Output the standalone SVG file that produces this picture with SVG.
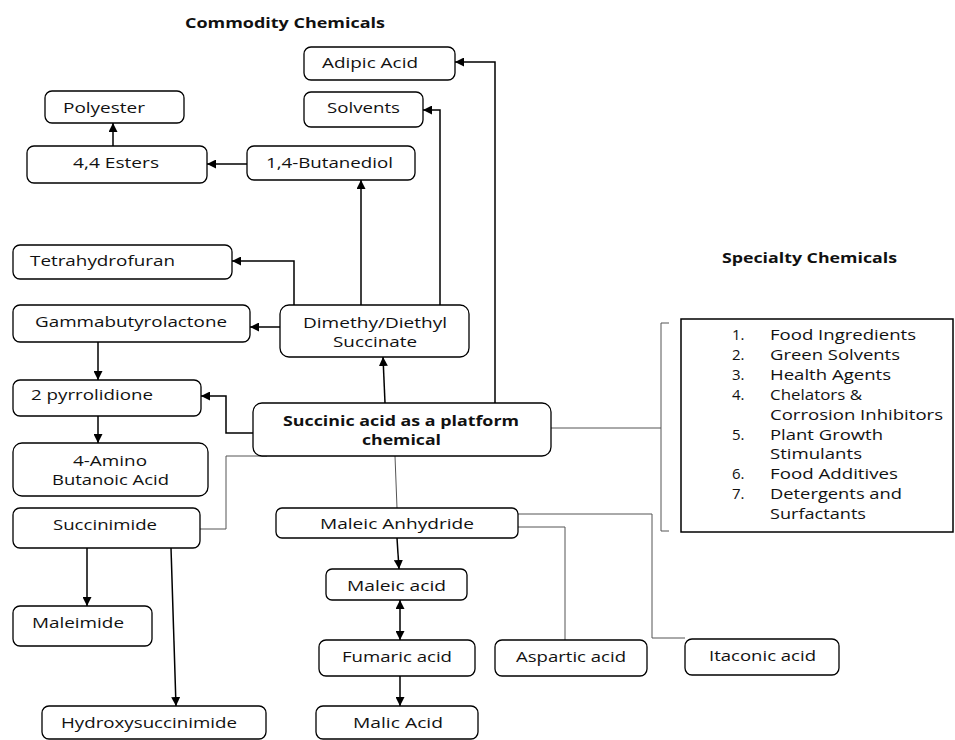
<svg xmlns="http://www.w3.org/2000/svg" width="955" height="740" viewBox="0 0 955 740">
<style>
.box{fill:#fff;stroke:#000;stroke-width:1.3}
.sq{fill:#fff;stroke:#000;stroke-width:1.5}
.t{font-family:"Open Sans","Liberation Sans",sans-serif;font-size:15px;fill:#111}
.b{font-weight:bold;font-size:14.5px}
.arr{stroke:#000;stroke-width:1.5;fill:none;marker-end:url(#ah)}
.dbl{stroke:#000;stroke-width:1.5;fill:none;marker-end:url(#ah);marker-start:url(#ah)}
.thin{stroke:#555;stroke-width:1;fill:none}
</style>
<defs>
<marker id="ah" markerUnits="userSpaceOnUse" markerWidth="9" markerHeight="9" refX="9" refY="4.5" orient="auto-start-reverse">
<path d="M0,0 L9,4.5 L0,9 z" fill="#000"/>
</marker>
</defs>
<rect width="955" height="740" fill="#fff"/>
<text class="t b" x="185" y="28" textLength="200" lengthAdjust="spacingAndGlyphs">Commodity Chemicals</text>
<text class="t b" x="722" y="263" textLength="175" lengthAdjust="spacingAndGlyphs">Specialty Chemicals</text>
<g id="connectors">
<path class="arr" d="M247,164 H207"/>
<path class="arr" d="M113,146 V123"/>
<path class="arr" d="M361,305 V180"/>
<path class="arr" d="M294,305 V261 H232"/>
<path class="arr" d="M280,327 H250"/>
<path class="arr" d="M440,305 V110 H423"/>
<path class="arr" d="M495,403 V62 H455"/>
<path class="arr" d="M385,403 L383,357"/>
<path class="arr" d="M98,342 V380"/>
<path class="arr" d="M253,433 H226 V396 H201"/>
<path class="arr" d="M98,416 V443"/>
<path class="thin" d="M267,456 H226 V529 H200"/>
<path class="arr" d="M87,548 V606"/>
<path class="arr" d="M171,548 L176,706"/>
<path class="thin" d="M395,456 L397,508"/>
<path class="arr" d="M397,538 L399,569"/>
<path class="dbl" d="M400,600 V640"/>
<path class="arr" d="M400,676 V706"/>
<path class="thin" d="M518,514 H652 V638 H685"/>
<path class="thin" d="M518,527 H565 V640"/>
<path class="thin" d="M551,428 H661"/>
<path class="thin" d="M669,323 H661 V531 H669"/>
</g>
<g id="adipic"><rect class="box" x="304" y="47" width="151" height="33" rx="7"/><text class="t" x="322" y="68" textLength="96" lengthAdjust="spacingAndGlyphs">Adipic Acid</text></g>
<g id="solvents"><rect class="box" x="304" y="92" width="119" height="35" rx="7"/><text class="t" x="327" y="113" textLength="73" lengthAdjust="spacingAndGlyphs">Solvents</text></g>
<g id="polyester"><rect class="box" x="45" y="91" width="139" height="32" rx="7"/><text class="t" x="63" y="113" textLength="82" lengthAdjust="spacingAndGlyphs">Polyester</text></g>
<g id="esters"><rect class="box" x="27" y="146" width="180" height="37" rx="7"/><text class="t" x="73" y="168" textLength="86" lengthAdjust="spacingAndGlyphs">4,4 Esters</text></g>
<g id="butanediol"><rect class="box" x="247" y="146" width="168" height="34" rx="7"/><text class="t" x="266" y="168" textLength="127" lengthAdjust="spacingAndGlyphs">1,4-Butanediol</text></g>
<g id="thf"><rect class="box" x="13" y="245" width="219" height="34" rx="7"/><text class="t" x="30" y="266" textLength="145" lengthAdjust="spacingAndGlyphs">Tetrahydrofuran</text></g>
<g id="gbl"><rect class="box" x="13" y="305" width="237" height="37" rx="7"/><text class="t" x="35" y="327" textLength="192" lengthAdjust="spacingAndGlyphs">Gammabutyrolactone</text></g>
<g id="dmds"><rect class="box" x="280" y="305" width="189" height="52" rx="9"/><text class="t" x="303" y="328" textLength="144" lengthAdjust="spacingAndGlyphs">Dimethy/Diethyl</text><text class="t" x="333" y="347" textLength="84" lengthAdjust="spacingAndGlyphs">Succinate</text></g>
<g id="pyrrolidione"><rect class="box" x="13" y="380" width="188" height="36" rx="7"/><text class="t" x="31" y="400" textLength="122" lengthAdjust="spacingAndGlyphs">2 pyrrolidione</text></g>
<g id="amino"><rect class="box" x="13" y="443" width="195" height="53" rx="9"/><text class="t" x="73" y="466" textLength="74" lengthAdjust="spacingAndGlyphs">4-Amino</text><text class="t" x="52" y="485" textLength="117" lengthAdjust="spacingAndGlyphs">Butanoic Acid</text></g>
<g id="succinic"><rect class="box" x="253" y="403" width="298" height="53" rx="9"/><text class="t b" x="283" y="426" textLength="236" lengthAdjust="spacingAndGlyphs">Succinic acid as a platform</text><text class="t b" x="362" y="445" textLength="79" lengthAdjust="spacingAndGlyphs">chemical</text></g>
<g id="succinimide"><rect class="box" x="13" y="508" width="187" height="40" rx="7"/><text class="t" x="53" y="530" textLength="104" lengthAdjust="spacingAndGlyphs">Succinimide</text></g>
<g id="maleimide"><rect class="box" x="13" y="606" width="139" height="40" rx="7"/><text class="t" x="32" y="628" textLength="92" lengthAdjust="spacingAndGlyphs">Maleimide</text></g>
<g id="hydroxysuccinimide"><rect class="box" x="42" y="706" width="224" height="33" rx="7"/><text class="t" x="61" y="728" textLength="176" lengthAdjust="spacingAndGlyphs">Hydroxysuccinimide</text></g>
<g id="maleicanhydride"><rect class="box" x="276" y="508" width="242" height="30" rx="6"/><text class="t" x="320" y="529" textLength="154" lengthAdjust="spacingAndGlyphs">Maleic Anhydride</text></g>
<g id="maleic"><rect class="box" x="326" y="569" width="141" height="31" rx="6"/><text class="t" x="347" y="591" textLength="99" lengthAdjust="spacingAndGlyphs">Maleic acid</text></g>
<g id="fumaric"><rect class="box" x="319" y="640" width="156" height="36" rx="7"/><text class="t" x="342" y="662" textLength="110" lengthAdjust="spacingAndGlyphs">Fumaric acid</text></g>
<g id="malic"><rect class="box" x="316" y="706" width="162" height="33" rx="7"/><text class="t" x="353" y="728" textLength="90" lengthAdjust="spacingAndGlyphs">Malic Acid</text></g>
<g id="aspartic"><rect class="box" x="495" y="640" width="152" height="36" rx="7"/><text class="t" x="516" y="662" textLength="110" lengthAdjust="spacingAndGlyphs">Aspartic acid</text></g>
<g id="itaconic"><rect class="box" x="685" y="639" width="154" height="36" rx="7"/><text class="t" x="709" y="661" textLength="107" lengthAdjust="spacingAndGlyphs">Itaconic acid</text></g>
<g id="specialty">
<rect class="sq" x="681" y="319" width="272" height="213"/>
<text class="t" x="732" y="340">1.</text><text class="t" x="770" y="340" textLength="146" lengthAdjust="spacingAndGlyphs">Food Ingredients</text>
<text class="t" x="732" y="360">2.</text><text class="t" x="770" y="360" textLength="130" lengthAdjust="spacingAndGlyphs">Green Solvents</text>
<text class="t" x="732" y="380">3.</text><text class="t" x="770" y="380" textLength="121" lengthAdjust="spacingAndGlyphs">Health Agents</text>
<text class="t" x="732" y="400">4.</text><text class="t" x="770" y="400" textLength="92" lengthAdjust="spacingAndGlyphs">Chelators &amp;</text>
<text class="t" x="770" y="420" textLength="173" lengthAdjust="spacingAndGlyphs">Corrosion Inhibitors</text>
<text class="t" x="732" y="440">5.</text><text class="t" x="770" y="440" textLength="113" lengthAdjust="spacingAndGlyphs">Plant Growth</text>
<text class="t" x="770" y="459" textLength="92" lengthAdjust="spacingAndGlyphs">Stimulants</text>
<text class="t" x="732" y="479">6.</text><text class="t" x="770" y="479" textLength="128" lengthAdjust="spacingAndGlyphs">Food Additives</text>
<text class="t" x="732" y="499">7.</text><text class="t" x="770" y="499" textLength="132" lengthAdjust="spacingAndGlyphs">Detergents and</text>
<text class="t" x="770" y="519" textLength="96" lengthAdjust="spacingAndGlyphs">Surfactants</text>
</g>
</svg>
